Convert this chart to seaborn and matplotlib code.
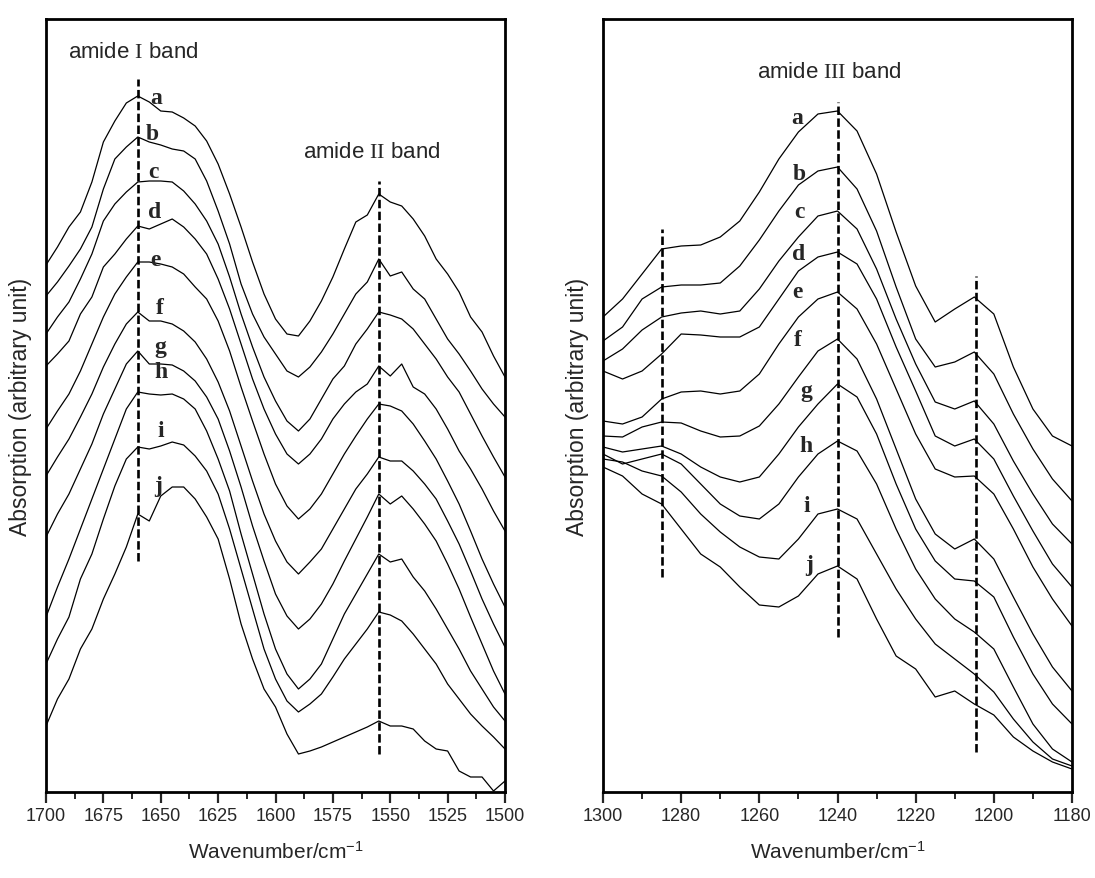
import numpy as np
import pandas as pd
import matplotlib
matplotlib.use("Agg")
import matplotlib.pyplot as plt
from matplotlib import font_manager
import seaborn as sns

# ---------------- data (arbitrary units) ----------------
samples = ["a", "b", "c", "d", "e", "f", "g", "h", "i", "j"]

# Left panel: amide I / amide II region (readings = depth below the frame top)
wn_left = [1700, 1695, 1690, 1685, 1680, 1675, 1670, 1665, 1660, 1655, 1650, 1645, 1640, 1635,
           1630, 1625, 1620, 1615, 1610, 1605, 1600, 1595, 1590, 1585, 1580, 1575, 1570, 1565,
           1560, 1555, 1550, 1545, 1540, 1535, 1530, 1525, 1520, 1515, 1510, 1505, 1500]
left_a = [266, 248, 228, 213, 183, 143, 122, 104, 97, 103, 112, 113, 119, 127, 142, 165, 195, 228, 263, 295, 320,
          335, 337, 322, 302, 278, 250, 223, 216, 195, 203, 207, 220, 237, 260, 275, 293, 318, 333, 357, 378]
left_b = [297, 283, 267, 250, 228, 190, 160, 148, 138, 143, 146, 150, 152, 160, 182, 212, 245, 285, 315, 338, 355,
          372, 378, 368, 353, 335, 315, 295, 283, 260, 277, 273, 290, 300, 320, 340, 355, 372, 390, 405, 418]
left_c = [335, 318, 303, 280, 255, 222, 205, 193, 183, 182, 182, 183, 192, 205, 222, 245, 278, 315, 348, 378, 402,
          422, 432, 420, 400, 380, 367, 345, 330, 313, 316, 320, 330, 345, 360, 378, 393, 415, 437, 458, 478]
left_d = [367, 355, 342, 315, 298, 268, 255, 240, 227, 230, 225, 220, 228, 240, 255, 280, 310, 345, 380, 410, 435,
          455, 465, 455, 440, 420, 405, 393, 385, 367, 377, 365, 388, 395, 410, 430, 452, 470, 490, 512, 532]
left_e = [430, 412, 395, 372, 345, 318, 295, 278, 263, 263, 265, 268, 275, 288, 300, 322, 352, 388, 422, 455, 485,
          507, 520, 510, 495, 475, 455, 437, 420, 405, 407, 412, 425, 442, 460, 482, 505, 532, 560, 585, 608]
left_f = [477, 458, 440, 418, 395, 368, 345, 325, 313, 322, 322, 325, 332, 343, 360, 383, 412, 447, 482, 515, 542,
          563, 575, 563, 550, 530, 510, 490, 475, 458, 462, 462, 472, 485, 500, 522, 545, 572, 600, 625, 648]
left_g = [538, 515, 495, 470, 445, 415, 390, 365, 352, 365, 365, 366, 372, 382, 398, 420, 452, 488, 527, 562, 595,
          617, 630, 620, 605, 585, 562, 540, 518, 495, 505, 497, 510, 525, 542, 565, 590, 618, 645, 672, 695]
left_h = [618, 588, 560, 530, 500, 470, 440, 410, 393, 395, 396, 395, 400, 410, 432, 460, 492, 535, 575, 615, 650,
          675, 690, 680, 665, 640, 615, 595, 575, 555, 563, 560, 578, 592, 610, 630, 650, 672, 690, 708, 722]
left_i = [665, 640, 618, 580, 555, 520, 487, 460, 448, 450, 447, 443, 446, 457, 472, 495, 530, 570, 610, 650, 680,
          702, 713, 705, 695, 678, 660, 645, 630, 613, 616, 622, 635, 650, 665, 685, 700, 715, 727, 738, 750]
left_j = [727, 700, 680, 650, 630, 600, 575, 548, 515, 522, 497, 488, 488, 500, 518, 540, 580, 625, 660, 690, 708,
          735, 755, 752, 748, 743, 738, 733, 728, 722, 727, 727, 730, 742, 750, 752, 772, 778, 778, 792, 782]

# Right panel: amide III region (readings = depth below the frame top)
wn_right = [1300, 1295, 1290, 1285, 1280, 1275, 1270, 1265, 1260, 1255, 1250, 1245, 1240,
            1235, 1230, 1225, 1220, 1215, 1210, 1205, 1200, 1195, 1190, 1185, 1180]
right_a = [318, 300, 275, 250, 247, 246, 238, 222, 193, 160, 133, 115, 112, 132, 175, 233, 287, 323, 310, 298, 315, 368, 410, 437, 447]
right_b = [342, 328, 300, 288, 286, 286, 284, 267, 241, 212, 186, 172, 168, 190, 232, 288, 340, 368, 363, 353, 375, 415, 450, 480, 502]
right_c = [362, 350, 331, 318, 314, 312, 315, 312, 290, 262, 238, 217, 212, 230, 270, 320, 365, 403, 410, 402, 425, 462, 495, 525, 545]
right_d = [372, 380, 372, 355, 335, 336, 338, 338, 328, 300, 272, 258, 253, 265, 300, 348, 392, 437, 447, 440, 460, 497, 532, 565, 588]
right_e = [422, 425, 418, 400, 393, 392, 395, 392, 375, 345, 318, 300, 293, 310, 345, 390, 435, 470, 478, 477, 495, 530, 568, 600, 627]
right_f = [437, 438, 428, 423, 424, 432, 438, 437, 427, 405, 378, 352, 340, 360, 400, 450, 500, 535, 550, 540, 560, 598, 635, 668, 692]
right_g = [448, 453, 450, 447, 455, 468, 478, 483, 478, 455, 428, 405, 385, 398, 435, 485, 530, 562, 580, 582, 598, 638, 675, 705, 725]
right_h = [455, 465, 460, 455, 465, 485, 505, 517, 520, 505, 478, 455, 442, 452, 485, 530, 570, 600, 620, 633, 650, 688, 725, 750, 763]
right_i = [460, 463, 472, 477, 493, 515, 533, 548, 558, 560, 540, 515, 510, 520, 555, 590, 620, 645, 660, 675, 693, 720, 743, 760, 767]
right_j = [468, 477, 495, 505, 530, 555, 568, 588, 606, 608, 597, 575, 567, 580, 620, 657, 670, 698, 692, 705, 716, 738, 752, 763, 770]

left_curves = [left_a, left_b, left_c, left_d, left_e, left_f, left_g, left_h, left_i, left_j]
right_curves = [right_a, right_b, right_c, right_d, right_e, right_f, right_g, right_h, right_i, right_j]

TOP = 800  # readings are depths below this level

# guide lines (band positions) with their extents (signal units)
left_bands = [1660, 1555]
left_band_lo = [238, 45]
left_band_hi = [720, 618]
right_bands = [1285, 1240, 1204.5]
right_band_lo = [222, 162, 47]
right_band_hi = [570, 697, 523]

# curve-label anchors (signal units)
left_label_wn = [1652, 1653.5, 1653, 1652.5, 1652.5, 1650.5, 1650, 1650, 1650, 1651]
left_label_y = [702, 665, 627, 587, 540, 492, 453, 428, 368, 313]
right_label_wn = [1250.2, 1249.7, 1249.7, 1250, 1250.2, 1250.2, 1248, 1248, 1247.8, 1247.2]
right_label_y = [682, 625, 588, 545, 507, 460, 408, 353, 293, 235]

# ---------------- style ----------------
sns.set_style("white")
plt.rcParams["font.family"] = ["Liberation Sans", "DejaVu Sans"]
plt.rcParams["mathtext.fontset"] = "custom"
plt.rcParams["mathtext.rm"] = "Liberation Serif"
plt.rcParams["mathtext.sf"] = "Liberation Sans"
plt.rcParams["mathtext.it"] = "Liberation Serif:italic"

names = {f.name for f in font_manager.fontManager.ttflist}
if "Liberation Sans Narrow" in names:
    tick_family, tick_size, lab_size = "Liberation Sans Narrow", 15, 17
else:
    tick_family, tick_size, lab_size = "Liberation Sans", 13, 15

W, H = 1095, 879
fig = plt.figure(figsize=(W / 100, H / 100), dpi=100)
ax1 = fig.add_axes([46 / W, 86 / H, 459 / W, 773 / H])
ax2 = fig.add_axes([603 / W, 86 / H, 469 / W, 773 / H])


def long_frame(wn, curves):
    rows = []
    for name, depth in zip(samples, curves):
        for x, d in zip(wn, depth):
            rows.append({"wn": x, "A": TOP - d, "sample": name})
    return pd.DataFrame(rows)


df_left = long_frame(wn_left, left_curves)
df_right = long_frame(wn_right, right_curves)

for ax, df in ((ax1, df_left), (ax2, df_right)):
    sns.lineplot(data=df, x="wn", y="A", units="sample", estimator=None,
                 color="black", lw=0.9, ax=ax, legend=False)

dash = (0, (3.2, 1.3))
ax1.vlines(left_bands, left_band_lo, left_band_hi, colors="black", linestyles=dash, lw=1.9)
ax2.vlines(right_bands, right_band_lo, right_band_hi, colors="black", linestyles=dash, lw=1.9)

letter_kw = dict(fontsize=17, fontweight="bold", family="Liberation Serif",
                 ha="center", va="center")
for s, x, y in zip(samples, left_label_wn, left_label_y):
    ax1.text(x, y, s, **letter_kw)
for s, x, y in zip(samples, right_label_wn, right_label_y):
    ax2.text(x, y, s, **letter_kw)

ax1.text(1690.4, 748, r"amide $\mathrm{I}$ band", fontsize=16, ha="left", va="center")
ax1.text(1558, 648, r"amide $\mathrm{II}$ band", fontsize=16, ha="center", va="center")
ax2.text(1242, 728, r"amide $\mathrm{III}$ band", fontsize=16, ha="center", va="center")

ax1.set_xlim(1700, 1500)
ax2.set_xlim(1300, 1180)
for ax in (ax1, ax2):
    ax.set_ylim(7, 780)
    ax.set_yticks([])
    for sp in ax.spines.values():
        sp.set_visible(True)
        sp.set_linewidth(2.0)
        sp.set_color("black")
    ax.tick_params(axis="x", which="major", direction="out", length=8, width=1.6,
                   pad=3, bottom=True, top=False, labelsize=tick_size)
    ax.tick_params(axis="x", which="minor", direction="out", length=5, width=1.4,
                   bottom=True, top=False)
    ax.set_xlabel(r"Wavenumber/cm$^{\mathsf{-1}}$", fontsize=lab_size,
                  family=tick_family, labelpad=12)
    ax.set_ylabel("Absorption (arbitrary unit)", fontsize=16.5, labelpad=10)

ax1.set_xticks(np.arange(1500, 1701, 25))
ax1.set_xticks(np.arange(1500, 1701, 12.5), minor=True)
ax2.set_xticks(np.arange(1180, 1301, 20))
ax2.set_xticks(np.arange(1180, 1301, 10), minor=True)
for ax in (ax1, ax2):
    for lab in ax.get_xticklabels():
        lab.set_family(tick_family)

fig.savefig("out.png", dpi=100)
